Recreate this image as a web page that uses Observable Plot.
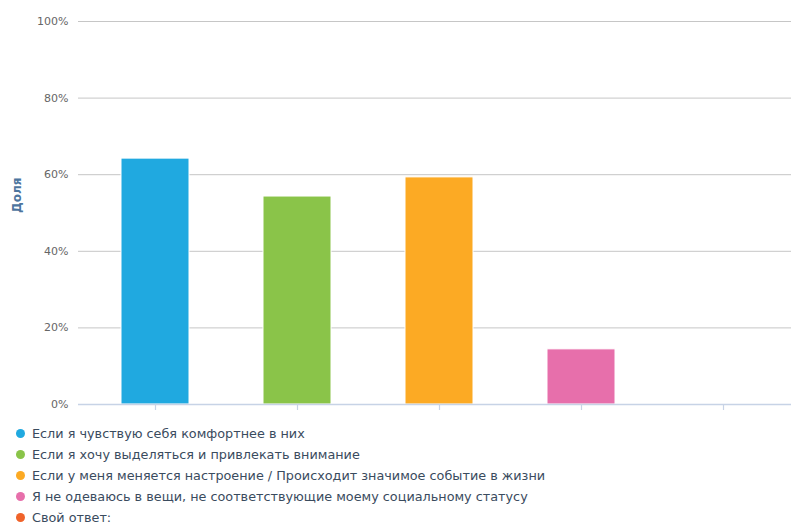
<!DOCTYPE html>
<html>
<head>
<meta charset="utf-8">
<script src="https://cdn.jsdelivr.net/npm/d3@7"></script>
<script src="https://cdn.jsdelivr.net/npm/@observablehq/plot@0.6"></script>
<style>
  html, body { margin: 0; padding: 0; background: #fff; }
  body { width: 791px; height: 522px; overflow: hidden; font-family: "DejaVu Sans", sans-serif; }
  #chart svg { display: block; }
  #legend { margin: 5px 0 0 0; padding: 0; }
  .item { display: flex; align-items: center; height: 21px; font-size: 12.8px; color: #3a4b5e; white-space: nowrap; }
  .dot { width: 9px; height: 9px; border-radius: 50%; margin-left: 16px; margin-right: 7px; flex: none; }
</style>
</head>
<body>
<div id="chart"></div>
<div id="legend"></div>
<script>
// Answer options and their share of respondents (percent)
const answers = [
  "Если я чувствую себя комфортнее в них",
  "Если я хочу выделяться и привлекать внимание",
  "Если у меня меняется настроение / Происходит значимое событие в жизни",
  "Я не одеваюсь в вещи, не соответствующие моему социальному статусу",
  "Свой ответ:"
];
const shares = [64.2, 54.3, 59.3, 14.4, 0];
const colors = ["#20a9e0", "#8ac449", "#fcaa24", "#e76fab", "#f0632a"];
const yTicks = [0, 20, 40, 60, 80, 100];

const data = answers.map((a, i) => ({answer: a, share: shares[i]}));

const chart = Plot.plot({
  width: 791,
  height: 418,
  marginLeft: 78,
  marginRight: 0,
  marginTop: 21,
  marginBottom: 14,
  style: {fontFamily: "DejaVu Sans, sans-serif", fontSize: "11px", color: "#666"},
  // each answer gets an equal slot; bars fill about half of it
  x: {domain: answers, paddingInner: 0.52, paddingOuter: 0.26, insetLeft: 5, insetRight: -5, axis: null},
  y: {type: "linear", domain: [0, 100], axis: null, label: null},
  color: {domain: answers, range: colors},
  marks: [
    Plot.gridY(yTicks, {stroke: "#c6c6c6", strokeOpacity: 1}),
    Plot.barY(data, {x: "answer", y: "share", fill: "answer", stroke: "#fff", strokeWidth: 1}),
    Plot.axisX({
      anchor: "bottom", tickSize: 6, tickFormat: () => "", label: null,
      stroke: "#c7d3e6", strokeWidth: 1.2
    }),
    Plot.ruleY([0], {stroke: "#c7d3e6", strokeWidth: 1.5}),
    Plot.axisY(yTicks, {
      tickSize: 0, tickPadding: 10, tickFormat: d => d + "%", label: null,
      fill: "#666", fontSize: 11
    }),
    Plot.text(["Доля"], {
      frameAnchor: "left", rotate: -90, dx: -61,
      fill: "#4d759e", fontWeight: "bold", fontSize: 12
    })
  ]
});
document.getElementById("chart").appendChild(chart);

const legend = d3.select("#legend");
answers.forEach((a, i) => {
  const row = legend.append("div").attr("class", "item");
  row.append("span").attr("class", "dot").style("background", colors[i]);
  row.append("span").text(a);
});
</script>
</body>
</html>
